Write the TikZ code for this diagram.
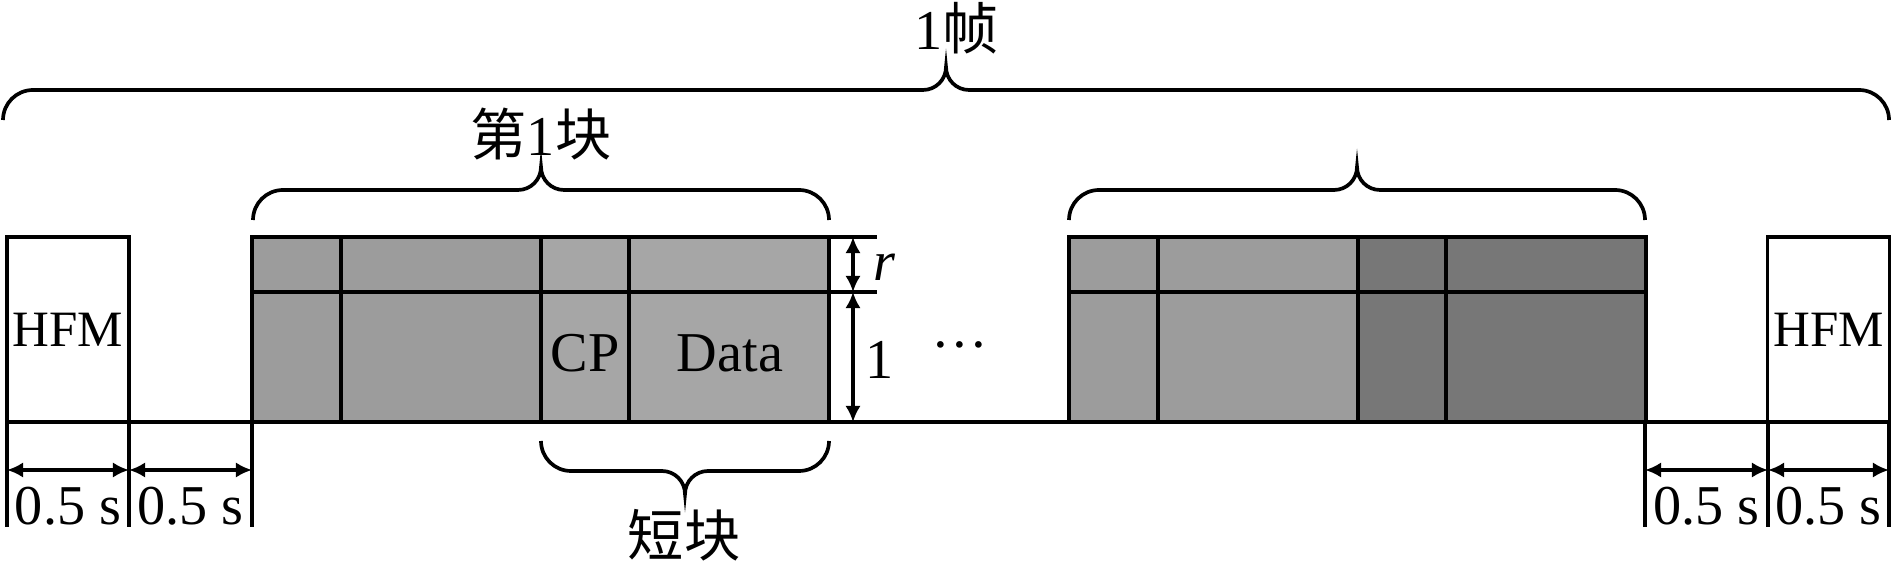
\documentclass[tikz,border=0pt]{standalone}
\usepackage{fontspec}
\setmainfont{Liberation Serif}
\newfontfamily\cjk{Noto Sans CJK SC}
\usetikzlibrary{arrows.meta}

\definecolor{cellgrey}{HTML}{9C9C9C}
\definecolor{cplight}{HTML}{A6A6A6}
\definecolor{cpdark}{HTML}{777777}

% curly brace: left x, right x, y of the ends, 1 = tip up / -1 = tip down
\newcommand{\framebrace}[4]{%
  \begin{scope}[shift={(0,#3)},yscale=#4]
    \draw[brace line] (#1,0) arc[start angle=180,end angle=90,radius=.3]
      -- ({(#1+#2)/2-.23},.3) arc[start angle=270,end angle=360,radius=.23]
      arc[start angle=180,end angle=270,radius=.23]
      -- ({#2-.3},.3) arc[start angle=90,end angle=0,radius=.3];
  \end{scope}}

\tikzset{
  frame/.style={line width=1.05pt},
  brace line/.style={line width=1.05pt},
  dim/.style={line width=1.05pt,{Latex[length=4.6pt,width=4.4pt]}-{Latex[length=4.6pt,width=4.4pt]}},
  hfm/.style={draw,line width=1.05pt,fill=white,minimum width=1.22cm,minimum height=1.85cm,inner sep=0pt,font=\fontsize{14.5}{17}\selectfont}
}

\begin{document}
\begin{tikzpicture}[every node/.style={font=\fontsize{16}{19}\selectfont}]
  \useasboundingbox (0,0) rectangle (18.94,5.63);

  % base line
  \draw[frame] (0.07,1.41) -- (18.89,1.41);

  % HFM blocks
  \node[hfm] (hfmL) at (0.68,2.335) {HFM};
  \node[hfm] (hfmR) at (18.285,2.335) {HFM};

  % two blocks, CP + Data cells
  \foreach \s/\colR in {0/cplight,8.17/cpdark}{
    \begin{scope}[xshift=\s cm]
      \fill[cellgrey] (2.52,1.41) rectangle (5.41,3.26);
      \fill[\colR] (5.41,1.41) rectangle (8.29,3.26);
      \draw[frame] (2.52,1.41) rectangle (8.29,3.26);
      \foreach \x in {3.41,5.41,6.29}
        \draw[frame] (\x,1.41) -- (\x,3.26);
      \draw[frame] (2.52,2.71) -- (8.29,2.71);
    \end{scope}
  }
  \node (cp) at (5.85,2.10) {CP};
  \node (data) at (7.30,2.10) {Data};

  % r / 1 marks
  \draw[frame] (8.29,3.26) -- (8.77,3.26);
  \draw[frame] (8.29,2.71) -- (8.77,2.71);
  \coordinate (rt) at (8.53,3.26);
  \coordinate (rm) at (8.53,2.71);
  \coordinate (rb) at (8.53,1.41);
  \draw[dim] (rt) -- (rm);
  \draw[dim] (rm) -- (rb);
  \node (rlab) at (8.85,2.96) {\textit{r}};
  \node (onelab) at (8.80,2.03) {1};
  \node (dots) at (9.60,2.10) {···};

  % 0.5 s intervals
  \foreach \x [count=\i] in {0.07,1.29,2.52,16.45,17.68,18.89}{
    \coordinate (t\i) at (\x,1.41);
    \coordinate (d\i) at (\x,0.93);
    \draw[frame] (t\i) -- (\x,0.36);
  }
  \draw[dim] (d1) -- (d2);
  \draw[dim] (d2) -- (d3);
  \draw[dim] (d4) -- (d5);
  \draw[dim] (d5) -- (d6);
  \node[anchor=base] (w1) at (0.68,0.38) {0.5 s};
  \node[anchor=base] (w2) at (1.905,0.38) {0.5 s};
  \node[anchor=base] (w3) at (17.065,0.38) {0.5 s};
  \node[anchor=base] (w4) at (18.285,0.38) {0.5 s};

  % braces
  \framebrace{0.03}{18.89}{4.43}{1}
  \framebrace{2.53}{8.29}{3.43}{1}
  \framebrace{10.69}{16.45}{3.43}{1}
  \framebrace{5.41}{8.29}{1.22}{-1}
  \node (frame1) at (9.57,5.35) {1{\cjk 帧}};
  \node (block1) at (5.41,4.29) {{\cjk 第}1{\cjk 块}};
  \node (short) at (6.84,0.28) {\cjk 短块};
\end{tikzpicture}
\end{document}
